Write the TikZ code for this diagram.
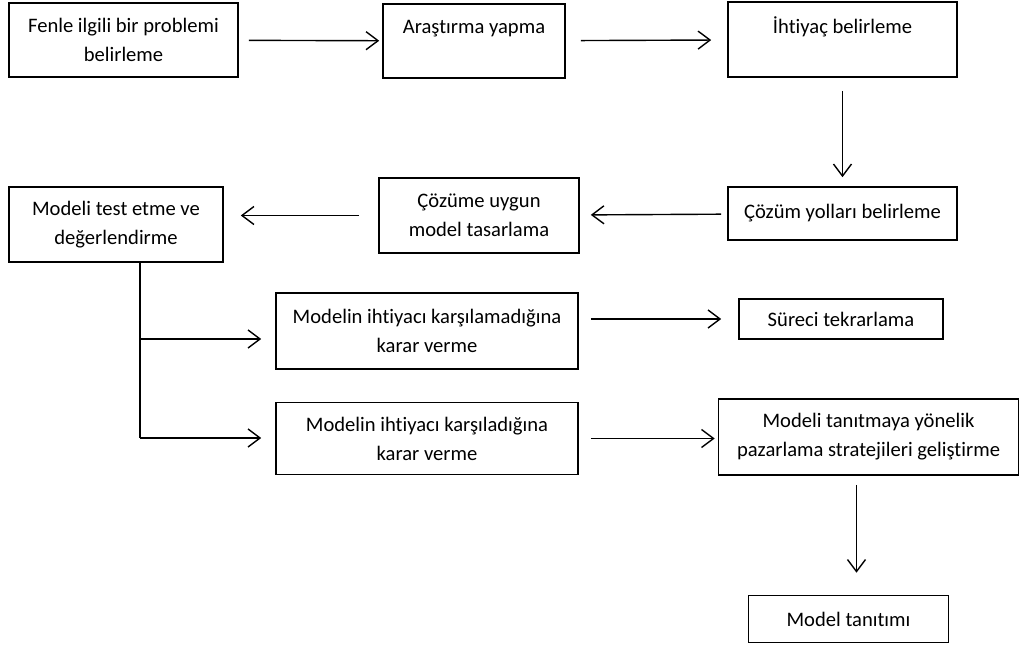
\documentclass[tikz,border=0pt]{standalone}
\usepackage{fontspec}
\setmainfont{Carlito}[Ligatures=NoCommon]
\usetikzlibrary{arrows.meta,positioning,calc}

\begin{document}
\begin{tikzpicture}[x=0.5pt,y=-0.5pt,
    box/.style={draw, line width=0.8pt, align=center, inner sep=0pt,
        font=\fontsize{10.3}{14.5}\selectfont},
    flow/.style={line width=0.7pt, -{Straight Barb[length=6pt,width=9pt]}}]
    \useasboundingbox (0,0) rectangle (1020,648);
    \node[box, minimum width=114.5pt, minimum height=37pt] (problem) at (123.5,40) {Fenle ilgili bir problemi\\belirleme};
    \node[box, minimum width=91pt, minimum height=37pt] (arastirma) at (474,41) {Araştırma yapma\\ \mbox{}};
    \node[box, minimum width=114.5pt, minimum height=37.5pt] (ihtiyac) at (842.5,39.5) {İhtiyaç belirleme\\ \mbox{}};
    \node[box, minimum width=114.5pt, minimum height=26.5pt] (cozum) at (842.5,213.5) {Çözüm yolları belirleme};
    \node[box, minimum width=100pt, minimum height=37.5pt] (tasarim) at (479,215.5) {Çözüme uygun\\model tasarlama};
    \node[box, minimum width=107pt, minimum height=37.5pt] (test) at (116,224.5) {Modeli test etme ve\\değerlendirme};
    \node[box, minimum width=151pt, minimum height=38pt] (karsilamadi) at (427,331) {Modelin ihtiyacı karşılamadığına\\karar verme};
    \node[box, minimum width=102pt, minimum height=20pt] (tekrar) at (841,319) {Süreci tekrarlama};
    \node[box, minimum width=151pt, minimum height=36pt] (karsiladi) at (427,438.5) {Modelin ihtiyacı karşıladığına\\karar verme};
    \node[box, minimum width=150pt, minimum height=38pt] (pazarlama) at (868.5,437) {Modeli tanıtmaya yönelik\\pazarlama stratejileri geliştirme};
    \node[box, minimum width=100pt, minimum height=23.5pt] (tanitim) at (848.5,619) {Model tanıtımı};
    \coordinate (branchA) at (140,339);
    \coordinate (branchB) at (140,438);
    \coordinate (drop) at ([xshift=4pt]tanitim.north);
    \draw[flow, shorten <=5pt, shorten >=1.5pt] (problem) -- (arastirma);
    \draw[flow, shorten <=7.5pt, shorten >=8pt] (arastirma) -- (ihtiyac);
    \draw[flow, shorten <=6.5pt, shorten >=4.5pt] (ihtiyac) -- (cozum);
    \draw[flow, shorten <=3pt, shorten >=5.5pt] (cozum) -- (tasarim);
    \draw[flow, shorten <=9.5pt, shorten >=8.5pt] (tasarim.west) -- (tasarim.west -| test.east);
    \draw[line width=0.7pt] (test.south -| branchA) -- (branchB);
    \draw[flow, shorten >=7pt] (branchA) -- (branchA -| karsilamadi.west);
    \draw[flow, shorten >=7pt] (branchB) -- (branchB -| karsiladi.west);
    \draw[flow, shorten <=6pt, shorten >=8.5pt] (karsilamadi.east |- tekrar) -- (tekrar.west);
    \draw[flow, shorten <=6pt, shorten >=1.5pt] (karsiladi.east) -- (karsiladi.east -| pazarlama.west);
    \draw[flow, shorten <=4.5pt, shorten >=11pt] (drop |- pazarlama.south) -- (drop);
\end{tikzpicture}
\end{document}
